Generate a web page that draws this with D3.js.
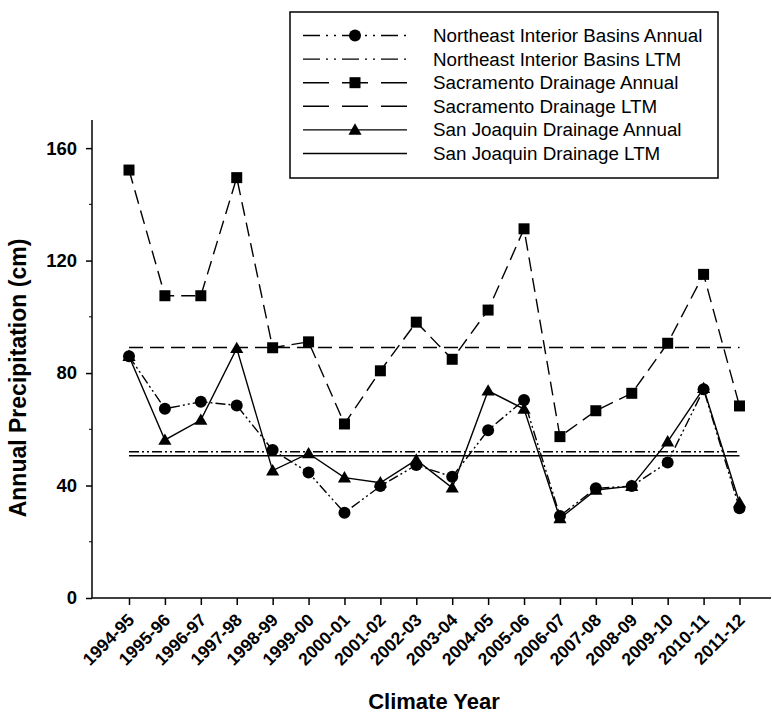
<!DOCTYPE html>
<html>
<head>
<meta charset="utf-8">
<script src="https://cdn.jsdelivr.net/npm/d3@7"></script>
<style>
  body { margin: 0; background: #fff; }
  svg { display: block; font-family: "Liberation Sans", Arial, sans-serif; }
</style>
</head>
<body>
<div id="chart"></div>
<script>
"use strict";

// climate years on the x axis
var years = ["1994-95", "1995-96", "1996-97", "1997-98", "1998-99", "1999-00",
    "2000-01", "2001-02", "2002-03", "2003-04", "2004-05", "2005-06",
    "2006-07", "2007-08", "2008-09", "2009-10", "2010-11", "2011-12"];

// annual precipitation (cm)
var northeastAnnual = [86.0, 67.3, 69.8, 68.5, 52.6, 44.6, 30.3, 39.8, 47.3,
    43.1, 59.7, 70.4, 29.2, 39.0, 39.8, 48.2, 74.2, 31.9];
var sacramentoAnnual = [152.2, 107.5, 107.5, 149.5, 89.0, 91.1, 61.9, 80.8, 98.1,
    84.9, 102.4, 131.3, 57.4, 66.6, 72.8, 90.6, 115.1, 68.3];
var sanJoaquinAnnual = [86.0, 56.2, 63.3, 88.8, 45.3, 51.4, 42.8, 41.0, 49.1,
    39.2, 73.7, 67.2, 28.3, 38.4, 39.8, 55.6, 74.6, 33.9];

// long term means (cm)
var northeastLTM = 52.0;
var sacramentoLTM = 89.1;
var sanJoaquinLTM = 50.6;

var yTicks = [0, 40, 80, 120, 160];
var yMinorTicks = [20, 60, 100, 140];

var legendLabels = ["Northeast Interior Basins Annual", "Northeast Interior Basins LTM",
    "Sacramento Drainage Annual", "Sacramento Drainage LTM",
    "San Joaquin Drainage Annual", "San Joaquin Drainage LTM"];

var width = 772, height = 718;
var plot = { left: 92, right: 771, top: 120, bottom: 598 };

var svg = d3.select("#chart").append("svg")
    .attr("width", width)
    .attr("height", height);

var x = d3.scalePoint()
    .domain(years)
    .range([129, 739.5]);
var y = d3.scaleLinear()
    .domain([0, 170])
    .range([plot.bottom, plot.top]);

// line styles: dash-dot-dot, long dash, solid
var styles = {
    northeast: { dash: "10,3,2,3,2,3", legendDash: "17,6,2,6,2,6", marker: "circle" },
    sacramento: { dash: "14,7", legendDash: "26,13", marker: "square" },
    sanJoaquin: { dash: null, legendDash: null, marker: "triangle" }
};

function drawMarker(g, type, cx, cy) {
    if (type === "circle") {
        g.append("circle").attr("cx", cx).attr("cy", cy).attr("r", 6).attr("fill", "#000");
    } else if (type === "square") {
        g.append("rect").attr("x", cx - 5.5).attr("y", cy - 5.5)
            .attr("width", 11).attr("height", 11).attr("fill", "#000");
    } else {
        g.append("path")
            .attr("d", d3.symbol().type(d3.symbolTriangle).size(75)())
            .attr("transform", "translate(" + cx + "," + (cy + 1) + ")")
            .attr("fill", "#000");
    }
}

// ---- axes ----
var yAxis = svg.append("g")
    .attr("transform", "translate(" + plot.left + ",0)")
    .call(d3.axisLeft(y).tickValues(yTicks).tickSize(6).tickPadding(9).tickSizeOuter(0));
yAxis.select(".domain").attr("d", "M0," + plot.top + "V" + plot.bottom);
yAxis.selectAll("text")
    .attr("font-size", 18.5)
    .attr("font-weight", "bold")
    .attr("font-family", "Liberation Sans, Arial, sans-serif");

svg.append("g")
    .attr("transform", "translate(" + plot.left + ",0)")
    .selectAll("line")
    .data(yMinorTicks)
    .enter().append("line")
    .attr("x1", -3).attr("x2", 0)
    .attr("y1", function (d) { return y(d); })
    .attr("y2", function (d) { return y(d); })
    .attr("stroke", "#000");

var xAxis = svg.append("g")
    .attr("transform", "translate(0," + plot.bottom + ")")
    .call(d3.axisBottom(x).tickSize(7).tickSizeOuter(0));
xAxis.select(".domain").attr("d", "M" + plot.left + ",0H" + plot.right);
xAxis.selectAll("text")
    .attr("font-size", 17.5)
    .attr("font-weight", "bold")
    .attr("font-family", "Liberation Sans, Arial, sans-serif")
    .attr("text-anchor", "end")
    .attr("dy", null)
    .attr("y", null)
    .attr("transform", "translate(6,23) rotate(-45)");

svg.selectAll(".domain, .tick line").attr("stroke", "#000").attr("stroke-width", 1.5);

// axis titles
svg.append("text")
    .attr("transform", "translate(26,378) rotate(-90)")
    .attr("text-anchor", "middle")
    .attr("font-size", 23)
    .attr("font-weight", "bold")
    .text("Annual Precipitation (cm)");

svg.append("text")
    .attr("x", 434)
    .attr("y", 709)
    .attr("text-anchor", "middle")
    .attr("font-size", 22)
    .attr("font-weight", "bold")
    .text("Climate Year");

// ---- long term mean lines ----
function ltm(value, style) {
    svg.append("line")
        .attr("x1", x(years[0])).attr("x2", x(years[years.length - 1]))
        .attr("y1", y(value)).attr("y2", y(value))
        .attr("stroke", "#000")
        .attr("stroke-width", 1.4)
        .attr("stroke-dasharray", style.dash);
}
ltm(sacramentoLTM, styles.sacramento);
ltm(northeastLTM, styles.northeast);
ltm(sanJoaquinLTM, styles.sanJoaquin);

// ---- annual series ----
var line = d3.line()
    .x(function (d, i) { return x(years[i]); })
    .y(function (d) { return y(d); });

function series(values, style) {
    var g = svg.append("g");
    g.append("path")
        .datum(values)
        .attr("d", line)
        .attr("fill", "none")
        .attr("stroke", "#000")
        .attr("stroke-width", 1.4)
        .attr("stroke-dasharray", style.dash);
    values.forEach(function (v, i) {
        drawMarker(g, style.marker, x(years[i]), y(v));
    });
}
series(sanJoaquinAnnual, styles.sanJoaquin);
series(sacramentoAnnual, styles.sacramento);
series(northeastAnnual, styles.northeast);

// ---- legend ----
var legend = svg.append("g");
legend.append("rect")
    .attr("x", 290).attr("y", 12)
    .attr("width", 428).attr("height", 166)
    .attr("fill", "#fff")
    .attr("stroke", "#000")
    .attr("stroke-width", 1.5);

var legendStyles = [styles.northeast, styles.northeast, styles.sacramento,
    styles.sacramento, styles.sanJoaquin, styles.sanJoaquin];

legendLabels.forEach(function (label, i) {
    var ly = 35.5 + i * 23.6;
    legend.append("line")
        .attr("x1", 303).attr("x2", 407)
        .attr("y1", ly).attr("y2", ly)
        .attr("stroke", "#000")
        .attr("stroke-width", 1.4)
        .attr("stroke-dasharray", legendStyles[i].legendDash);
    if (i % 2 === 0) {
        drawMarker(legend, legendStyles[i].marker, 355, ly);
    }
    legend.append("text")
        .attr("x", 433)
        .attr("y", ly + 6.5)
        .attr("font-size", 18.8)
        .text(label);
});
</script>
</body>
</html>
